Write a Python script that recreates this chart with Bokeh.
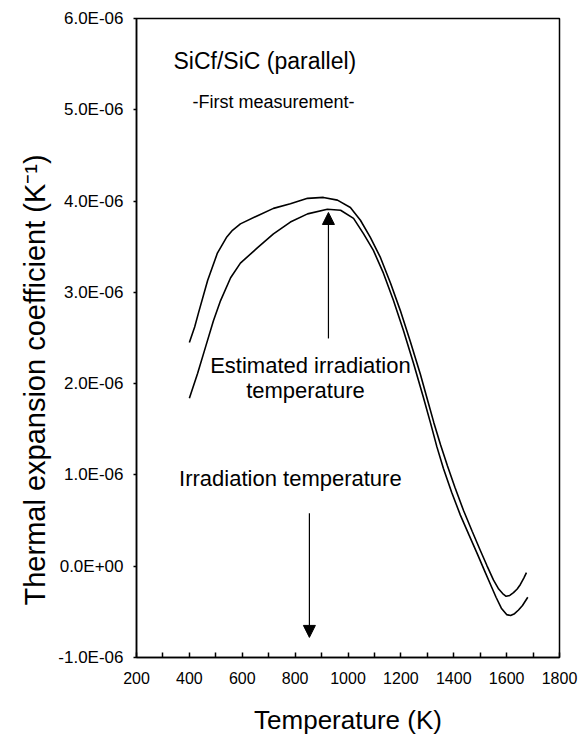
import math
from bokeh.plotting import figure
from bokeh.models import (FixedTicker, CustomJSTickFormatter, Label, Arrow,
                          NormalHead, Range1d, Title)
from bokeh.embed import file_html
from bokeh.resources import INLINE

# ---- data (thermal expansion coefficient, K^-1, vs temperature, K) ----
temp_upper = [400, 420, 434, 469, 506, 540, 563, 593, 658, 718, 782, 847, 907,
              960, 1009, 1047, 1085, 1123, 1161, 1198, 1236, 1274, 1300, 1325,
              1350, 1376, 1405, 1437, 1470, 1501, 1525, 1550, 1570, 1585, 1598,
              1612, 1626, 1640, 1652, 1665, 1675]
cte_upper = [2.45e-6, 2.62e-6, 2.77e-6, 3.13e-6, 3.43e-6, 3.60e-6, 3.68e-6,
             3.75e-6, 3.84e-6, 3.92e-6, 3.97e-6, 4.03e-6, 4.04e-6, 4.01e-6,
             3.93e-6, 3.79e-6, 3.60e-6, 3.38e-6, 3.10e-6, 2.80e-6, 2.46e-6,
             2.10e-6, 1.83e-6, 1.57e-6, 1.33e-6, 1.10e-6, 0.86e-6, 0.61e-6,
             0.38e-6, 0.17e-6, 0.01e-6, -0.15e-6, -0.25e-6, -0.30e-6,
             -0.33e-6, -0.32e-6, -0.29e-6, -0.25e-6, -0.20e-6, -0.13e-6,
             -0.07e-6]

temp_lower = [400, 431, 461, 491, 518, 556, 593, 658, 718, 782, 847, 922, 972,
              1021, 1059, 1096, 1134, 1172, 1210, 1248, 1285, 1312, 1336, 1361,
              1392, 1425, 1458, 1490, 1515, 1539, 1560, 1580, 1600, 1615, 1630,
              1645, 1660, 1680]
cte_lower = [1.84e-6, 2.11e-6, 2.40e-6, 2.69e-6, 2.91e-6, 3.16e-6, 3.32e-6,
             3.49e-6, 3.64e-6, 3.77e-6, 3.86e-6, 3.91e-6, 3.90e-6, 3.81e-6,
             3.64e-6, 3.46e-6, 3.21e-6, 2.91e-6, 2.58e-6, 2.22e-6, 1.85e-6,
             1.57e-6, 1.31e-6, 1.07e-6, 0.81e-6, 0.56e-6, 0.34e-6, 0.13e-6,
             -0.04e-6, -0.20e-6, -0.34e-6, -0.46e-6, -0.53e-6, -0.54e-6,
             -0.52e-6, -0.48e-6, -0.43e-6, -0.34e-6]

x_ticks = [200, 400, 600, 800, 1000, 1200, 1400, 1600, 1800]
x_minor_ticks = [300, 500, 700, 900, 1100, 1300, 1500, 1700]
y_ticks = [-1e-6, 0.0, 1e-6, 2e-6, 3e-6, 4e-6, 5e-6, 6e-6]
y_tick_labels = ["-1.0E-06", "0.0E+00", "1.0E-06", "2.0E-06", "3.0E-06",
                 "4.0E-06", "5.0E-06", "6.0E-06"]

# annotation anchors (data coordinates)
est_arrow = dict(x=926, y0=2.495e-6, y1=3.875e-6)
irr_arrow = dict(x=854, y0=0.58e-6, y1=-0.78e-6)

FONT = "Liberation Sans"

p = figure(width=588, height=737, x_range=Range1d(200, 1800),
           y_range=Range1d(-1e-6, 6e-6), output_backend="svg",
           toolbar_location=None, min_border_left=136, min_border_right=29,
           min_border_top=18, min_border_bottom=80)

p.background_fill_color = "white"
p.border_fill_color = "white"
p.outline_line_color = "black"
p.outline_line_width = 1.5
p.xgrid.grid_line_color = None
p.ygrid.grid_line_color = None

p.line(temp_upper, cte_upper, line_color="black", line_width=1.6)
p.line(temp_lower, cte_lower, line_color="black", line_width=1.6)

# x axis
p.xaxis.ticker = FixedTicker(ticks=x_ticks, minor_ticks=x_minor_ticks)
p.xaxis.axis_line_width = 1.5
p.xaxis.major_tick_in = 5
p.xaxis.major_tick_out = 0
p.xaxis.minor_tick_in = 5
p.xaxis.minor_tick_out = 0
p.xaxis.major_tick_line_width = 1.5
p.xaxis.minor_tick_line_width = 1.5
p.xaxis.major_label_text_font = FONT
p.xaxis.major_label_text_font_size = "16px"
p.xaxis.major_label_text_color = "black"
p.xaxis.major_label_standoff = 14
p.xaxis.axis_label = "Temperature (K)"
p.xaxis.axis_label_text_font = FONT
p.xaxis.axis_label_text_font_size = "26px"
p.xaxis.axis_label_text_font_style = "normal"
p.xaxis.axis_label_text_color = "black"
p.xaxis.axis_label_standoff = 18

# y axis
p.yaxis.ticker = FixedTicker(ticks=y_ticks, minor_ticks=[])
p.yaxis.formatter = CustomJSTickFormatter(
    args=dict(vals=y_ticks, labs=y_tick_labels),
    code="""
let best = 0;
for (let i = 0; i < vals.length; i++) {
  if (Math.abs(vals[i] - tick) < Math.abs(vals[best] - tick)) best = i;
}
return labs[best];
""")
p.yaxis.axis_line_width = 1.5
p.yaxis.major_tick_in = 0
p.yaxis.major_tick_out = 3
p.yaxis.major_tick_line_width = 1.5
p.yaxis.major_label_text_font = FONT
p.yaxis.major_label_text_font_size = "17px"
p.yaxis.major_label_text_color = "black"
p.yaxis.major_label_standoff = 10

# y axis title, shifted downward like the reference
p.add_layout(Title(text="Thermal expansion coefficient  (K\u207b\u00b9)",
                   align="left", offset=52, text_font=FONT,
                   text_font_size="29px", text_font_style="normal",
                   text_color="black"), "left")

# in-plot texts
p.add_layout(Label(x=340, y=5.53e-6, text="SiCf/SiC (parallel)",
                   text_align="left", text_baseline="middle", text_font=FONT,
                   text_font_size="23px", text_color="black"))
p.add_layout(Label(x=718, y=5.08e-6, text="-First measurement-",
                   text_align="center", text_baseline="middle",
                   text_font=FONT, text_font_size="18px", text_color="black"))
p.add_layout(Label(x=858, y=2.20e-6, text="Estimated irradiation",
                   text_align="center", text_baseline="middle",
                   text_font=FONT, text_font_size="22px", text_color="black"))
p.add_layout(Label(x=839, y=1.925e-6, text="temperature",
                   text_align="center", text_baseline="middle",
                   text_font=FONT, text_font_size="22px", text_color="black"))
p.add_layout(Label(x=782, y=0.96e-6, text="Irradiation temperature",
                   text_align="center", text_baseline="middle",
                   text_font=FONT, text_font_size="22px", text_color="black"))

# arrows
p.add_layout(Arrow(end=NormalHead(size=12, fill_color="black",
                                  line_color="black"),
                   x_start=est_arrow["x"], y_start=est_arrow["y0"],
                   x_end=est_arrow["x"], y_end=est_arrow["y1"],
                   line_color="black", line_width=1.2))
p.add_layout(Arrow(end=NormalHead(size=12, fill_color="black",
                                  line_color="black"),
                   x_start=irr_arrow["x"], y_start=irr_arrow["y0"],
                   x_end=irr_arrow["x"], y_end=irr_arrow["y1"],
                   line_color="black", line_width=1.2))

open("out.html", "w").write(file_html(p, INLINE))
